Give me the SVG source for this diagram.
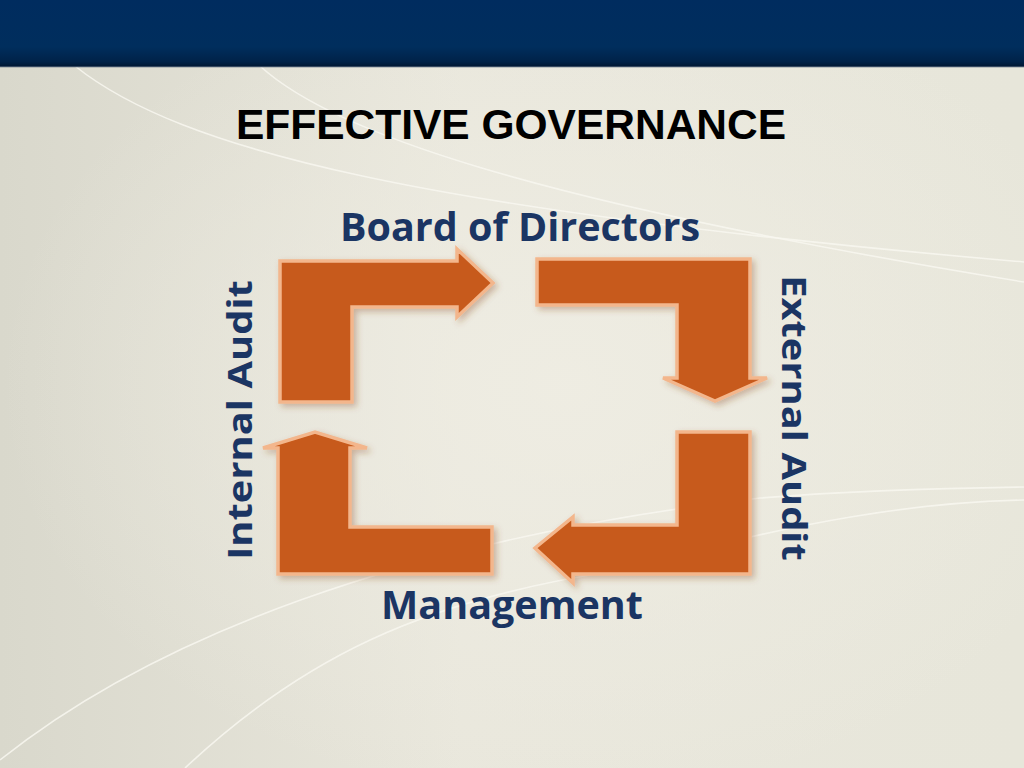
<svg xmlns="http://www.w3.org/2000/svg" width="1024" height="768" viewBox="0 0 1024 768">
  <defs>
    <linearGradient id="bg" x1="0" y1="0" x2="1" y2="0">
      <stop offset="0" stop-color="#d9d8cc"/>
      <stop offset="0.45" stop-color="#e9e7dc"/>
      <stop offset="1" stop-color="#e7e6da"/>
    </linearGradient>
    <radialGradient id="glow" cx="0.55" cy="0.5" r="0.55">
      <stop offset="0" stop-color="#efede3" stop-opacity="0.9"/>
      <stop offset="1" stop-color="#efede3" stop-opacity="0"/>
    </radialGradient>
    <linearGradient id="hdr" x1="0" y1="0" x2="0" y2="1">
      <stop offset="0" stop-color="#002c5f"/>
      <stop offset="0.7" stop-color="#002e5d"/>
      <stop offset="0.92" stop-color="#002248"/>
      <stop offset="1" stop-color="#001630"/>
    </linearGradient>
    <filter id="shadow" x="-10%" y="-10%" width="125%" height="125%">
      <feGaussianBlur in="SourceAlpha" stdDeviation="3"/>
      <feOffset dx="3" dy="3" result="b"/>
      <feFlood flood-color="#8a4a20" flood-opacity="0.35"/>
      <feComposite in2="b" operator="in"/>
      <feMerge>
        <feMergeNode/>
        <feMergeNode in="SourceGraphic"/>
      </feMerge>
    </filter>
  </defs>
  <style>
    .arrow { fill: #c75a1b; stroke: #f3b68c; stroke-width: 3.5; stroke-linejoin: miter; }
    .label { font-family: "Open Sans", "Noto Sans", "DejaVu Sans", sans-serif; font-weight: 700; font-size: 39.5px; fill: #1b3563; text-anchor: middle; }
    .title { font-family: "Liberation Sans", Arial, sans-serif; font-weight: 700; font-size: 42.5px; fill: #000000; text-anchor: middle; }
    .curve { fill: none; stroke: #f8f7f0; stroke-width: 1.6; opacity: 0.85; }
  </style>

  <!-- background -->
  <rect x="0" y="0" width="1024" height="768" fill="url(#bg)"/>
  <rect x="0" y="0" width="1024" height="768" fill="url(#glow)"/>
  <g id="background-curves">
    <path class="curve" d="M75,66 C180,150 420,210 1024,262"/>
    <path class="curve" d="M260,66 C330,130 520,200 1024,282"/>
    <path class="curve" d="M0,760 C150,640 400,540 760,498 C860,490 950,488 1024,487"/>
    <path class="curve" d="M185,768 C300,660 420,600 620,570 C800,520 920,502 1024,500"/>
  </g>

  <!-- header band -->
  <rect x="0" y="0" width="1024" height="67" fill="url(#hdr)"/>
  <rect x="0" y="66" width="1024" height="1.5" fill="#5a6a80" opacity="0.6"/>

  <g id="title">
    <text class="title" x="511" y="139">EFFECTIVE GOVERNANCE</text>
  </g>

  <g id="connectors">
    <g id="arrow-top-left" filter="url(#shadow)">
      <path class="arrow" d="M280,402 L280,261 L457,261 L457,249 L493,283 L457,317 L457,307 L352,307 L352,402 Z"/>
    </g>
    <g id="arrow-top-right" filter="url(#shadow)">
      <path class="arrow" d="M537,259 L750,259 L750,378 L767,378 L715,401 L663,378 L677,378 L677,305 L537,305 Z"/>
    </g>
    <g id="arrow-bottom-right" filter="url(#shadow)">
      <path class="arrow" d="M750,432 L750,574 L573,574 L573,583 L535,548 L573,517 L573,525 L677,525 L677,432 Z"/>
    </g>
    <g id="arrow-bottom-left" filter="url(#shadow)">
      <path class="arrow" d="M278,574 L278,448 L263,448 L315,432 L367,448 L350,448 L350,527 L492,527 L492,574 Z"/>
    </g>
  </g>

  <g id="node-board">
    <text class="label" x="520" y="241">Board of Directors</text>
  </g>
  <g id="node-management">
    <text class="label" x="512" y="619">Management</text>
  </g>
  <g id="node-internal-audit">
    <text class="label" transform="translate(252,420) rotate(-90) scale(1.01,0.84)" x="0" y="0">Internal Audit</text>
  </g>
  <g id="node-external-audit">
    <text class="label" transform="translate(782,418) rotate(90) scale(1.01,0.84)" x="0" y="0">External Audit</text>
  </g>
</svg>
